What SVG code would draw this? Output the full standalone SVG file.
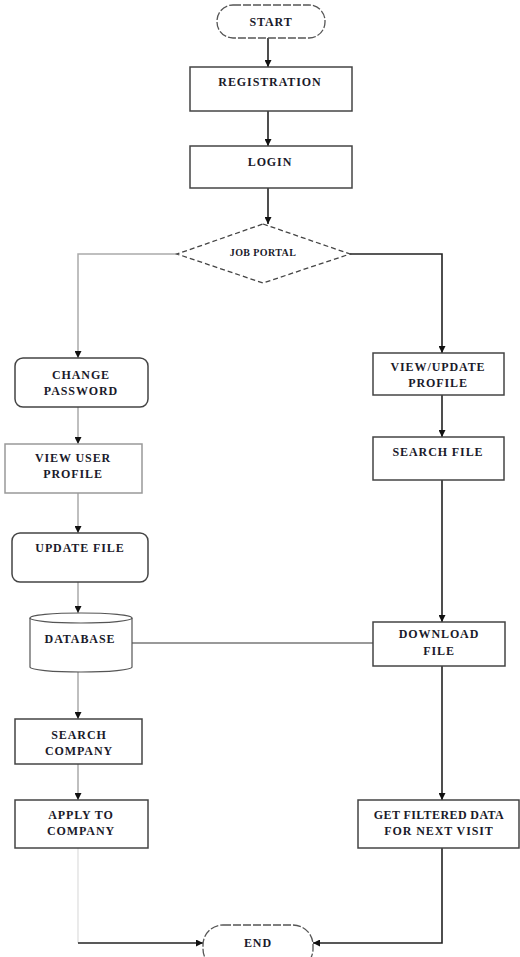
<svg xmlns="http://www.w3.org/2000/svg" width="520" height="957" viewBox="0 0 520 957">
<defs>
<marker id="ah" viewBox="0 0 10 10" refX="10" refY="5" markerWidth="7" markerHeight="7" markerUnits="userSpaceOnUse" orient="auto">
<path d="M0,0 L10,5 L0,10 Z" fill="#111"/>
</marker>
</defs>
<style>
text{font-family:"Liberation Serif","Times New Roman",serif;font-size:12px;font-weight:bold;fill:#1a1a2a;text-anchor:middle;letter-spacing:0.9px}
.box{fill:#fff;stroke:#444;stroke-width:1.5}
.term{fill:#fff;stroke:#555;stroke-width:1.3;stroke-dasharray:8 2}
.dia{fill:#fff;stroke:#444;stroke-width:1.3;stroke-dasharray:5 3}
.dark{fill:none;stroke:#222;stroke-width:1.6}
.gray{fill:none;stroke:#aaa;stroke-width:1.5}
.light{fill:none;stroke:#ddd;stroke-width:1.2}
</style>
<rect width="520" height="957" fill="#fff"/>
<g id="connectors">
<path class="dark" d="M268,38 V67" marker-end="url(#ah)"/>
<path class="dark" d="M268,111 V146" marker-end="url(#ah)"/>
<path class="dark" d="M268,188 V224" marker-end="url(#ah)"/>
<path class="gray" d="M177,254 H78 V358" marker-end="url(#ah)"/>
<path class="gray" d="M78,407 V444" marker-end="url(#ah)"/>
<path class="gray" d="M78,493 V533" marker-end="url(#ah)"/>
<path class="gray" d="M78,582 V613" marker-end="url(#ah)"/>
<path class="gray" d="M78,672 V719" marker-end="url(#ah)"/>
<path class="gray" d="M78,764 V800" marker-end="url(#ah)"/>
<path class="light" d="M78,848 V943"/>
<path class="dark" d="M78,943 H203" marker-end="url(#ah)"/>
<path class="dark" d="M350,254 H442 V353" marker-end="url(#ah)"/>
<path class="dark" d="M442,395 V437" marker-end="url(#ah)"/>
<path class="dark" d="M442,480 V622" marker-end="url(#ah)"/>
<path class="dark" d="M442,666 V800" marker-end="url(#ah)"/>
<path class="dark" d="M442,848 V943 H313" marker-end="url(#ah)"/>
<path fill="none" stroke="#999" stroke-width="2" d="M132,643 H373"/>
</g>
<g id="start">
<rect class="term" x="217" y="5" width="108" height="33" rx="16"/>
<text x="271" y="26">START</text>
</g>
<g id="registration">
<rect class="box" x="190" y="67" width="162" height="44"/>
<text x="270" y="86">REGISTRATION</text>
</g>
<g id="login">
<rect class="box" x="190" y="146" width="162" height="42"/>
<text x="270" y="166">LOGIN</text>
</g>
<g id="jobportal">
<polygon class="dia" points="263,224 350,254 263,283 177,254"/>
<text x="263" y="256" style="font-size:10px;letter-spacing:0.4px">JOB PORTAL</text>
</g>
<g id="changepassword">
<rect class="box" x="15" y="358" width="133" height="49" rx="8"/>
<text x="81" y="379">CHANGE</text>
<text x="81" y="395">PASSWORD</text>
</g>
<g id="viewuserprofile">
<rect class="box" x="5" y="444" width="137" height="49" style="stroke:#999"/>
<text x="73" y="462">VIEW USER</text>
<text x="73" y="478">PROFILE</text>
</g>
<g id="updatefile">
<rect class="box" x="12" y="533" width="136" height="49" rx="8"/>
<text x="80" y="552">UPDATE FILE</text>
</g>
<g id="database">
<path class="box" d="M30,618 A51,5 0 0 1 132,618 V667 A51,5 0 0 1 30,667 Z" style="stroke:#555;stroke-width:1.2"/>
<path fill="none" stroke="#555" stroke-width="1.2" d="M30,618 A51,5 0 0 0 132,618"/>
<text x="80" y="643">DATABASE</text>
</g>
<g id="searchcompany">
<rect class="box" x="15" y="719" width="127" height="45"/>
<text x="79" y="739">SEARCH</text>
<text x="79" y="755">COMPANY</text>
</g>
<g id="applytocompany">
<rect class="box" x="15" y="800" width="133" height="48"/>
<text x="81" y="819">APPLY TO</text>
<text x="81" y="835">COMPANY</text>
</g>
<g id="viewupdateprofile">
<rect class="box" x="373" y="353" width="131" height="42"/>
<text x="438" y="371">VIEW/UPDATE</text>
<text x="438" y="387">PROFILE</text>
</g>
<g id="searchfile">
<rect class="box" x="373" y="437" width="131" height="43"/>
<text x="438" y="456">SEARCH FILE</text>
</g>
<g id="downloadfile">
<rect class="box" x="373" y="622" width="132" height="44"/>
<text x="439" y="638">DOWNLOAD</text>
<text x="439" y="655">FILE</text>
</g>
<g id="getfiltereddata">
<rect class="box" x="358" y="800" width="161" height="48"/>
<text x="439" y="819" style="letter-spacing:0.4px">GET FILTERED DATA</text>
<text x="439" y="835">FOR NEXT VISIT</text>
</g>
<g id="end">
<rect class="term" x="203" y="925" width="110" height="44" rx="20"/>
<text x="258" y="947">END</text>
</g>
</svg>
